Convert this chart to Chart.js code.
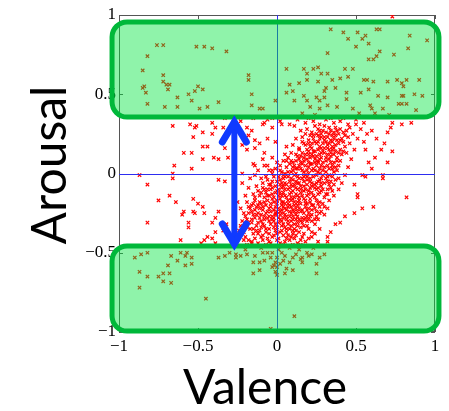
<!DOCTYPE html>
<html><head><meta charset="utf-8">
<script src="https://cdn.jsdelivr.net/npm/chart.js@4/dist/chart.umd.min.js"></script>
<style>html,body{margin:0;padding:0;background:#fff;}#wrap{width:449px;height:411px;}</style>
</head><body><div id="wrap"><canvas id="c" width="449" height="411"></canvas></div>
<script>
// ---------- data (valence, arousal) ----------
const tickValues = [-1, -0.5, 0, 0.5, 1];
const tickLabels = ['−1', '−0.5', '0', '0.5', '1'];
const xTitle = 'Valence';
const yTitle = 'Arousal';
const zeroLines = [0];   // reference lines at valence = 0 and arousal = 0

const denseCore = [
[-0.18,-0.42],[-0.12,-0.44],[-0.05,-0.43],[0.02,-0.44],[0.08,-0.42],[0.13,-0.44],[-0.15,-0.38],[-0.09,-0.39],[-0.03,-0.40],[0.04,-0.39],[0.10,-0.38],[0.16,-0.40],[-0.19,-0.34],[-0.13,-0.33],[-0.07,-0.35],[-0.01,-0.36],[0.05,-0.34],[0.11,-0.35],[0.17,-0.33],[0.22,-0.37],[-0.16,-0.31],[-0.10,-0.30],[-0.04,-0.32],[0.01,-0.31],[0.07,-0.30],[0.13,-0.31],[0.19,-0.30],[-0.21,-0.37],[-0.06,-0.41],[0.00,-0.38],[0.06,-0.37],[0.14,-0.37],[-0.11,-0.36],[0.09,-0.33],[0.03,-0.33],[-0.02,-0.30],[0.24,-0.32],[-0.14,-0.41],[0.18,-0.43],[0.11,-0.41],
[-0.20,-0.27],[-0.15,-0.26],[-0.11,-0.28],[-0.07,-0.25],[-0.03,-0.27],[0.01,-0.28],[0.04,-0.25],[0.08,-0.27],[0.12,-0.26],[0.16,-0.28],[0.20,-0.25],[0.25,-0.27],[-0.17,-0.22],[-0.13,-0.21],[-0.09,-0.23],[-0.05,-0.22],[-0.01,-0.21],[0.03,-0.23],[0.07,-0.21],[0.10,-0.23],[0.14,-0.22],[0.18,-0.21],[0.22,-0.23],[0.27,-0.21],[-0.19,-0.18],[-0.14,-0.17],[-0.10,-0.19],[-0.06,-0.17],[-0.02,-0.18],[0.02,-0.16],[0.05,-0.19],[0.09,-0.17],[0.13,-0.18],[0.17,-0.16],[0.21,-0.18],[0.25,-0.17],[0.29,-0.19],[-0.08,-0.29],[0.00,-0.24],[0.06,-0.29],[0.11,-0.20],[0.15,-0.24],[0.19,-0.27],[-0.04,-0.19],[0.03,-0.20],[0.08,-0.24],[0.12,-0.29],[-0.12,-0.25],[0.23,-0.20],[-0.16,-0.29],
[-0.15,-0.13],[-0.11,-0.14],[-0.07,-0.12],[-0.03,-0.13],[0.01,-0.14],[0.04,-0.12],[0.08,-0.13],[0.11,-0.15],[0.15,-0.12],[0.19,-0.14],[0.22,-0.12],[0.26,-0.13],[0.30,-0.15],[-0.13,-0.08],[-0.09,-0.09],[-0.05,-0.07],[-0.01,-0.08],[0.03,-0.09],[0.06,-0.07],[0.10,-0.08],[0.13,-0.10],[0.17,-0.08],[0.21,-0.09],[0.24,-0.07],[0.28,-0.08],[0.32,-0.10],[-0.10,-0.03],[-0.06,-0.04],[-0.02,-0.02],[0.02,-0.04],[0.05,-0.02],[0.09,-0.03],[0.12,-0.05],[0.16,-0.03],[0.19,-0.04],[0.23,-0.02],[0.27,-0.04],[0.31,-0.03],[0.34,-0.05],[0.00,-0.11],[0.07,-0.10],[0.14,-0.06],[0.20,-0.11],[0.25,-0.10],[0.11,-0.01],[0.18,-0.01],[-0.04,-0.10],[0.29,-0.01],[0.03,-0.06],[0.09,-0.12],
[-0.08,-0.33],[-0.02,-0.34],[0.04,-0.32],[0.10,-0.36],[0.15,-0.34],[-0.12,-0.31],[-0.06,-0.28],[0.02,-0.29],[0.09,-0.30],[0.14,-0.29],[0.20,-0.29],[-0.10,-0.26],[-0.04,-0.24],[0.05,-0.26],[0.11,-0.24],[0.17,-0.25],[0.22,-0.26],[-0.14,-0.23],[-0.07,-0.20],[0.01,-0.22],[0.06,-0.23],[0.13,-0.20],[0.19,-0.23],[0.25,-0.24],[-0.11,-0.18],[-0.03,-0.16],[0.04,-0.18],[0.10,-0.16],[0.15,-0.19],[0.21,-0.16],[0.27,-0.18],[-0.08,-0.15],[-0.01,-0.12],[0.06,-0.15],[0.12,-0.13],[0.17,-0.11],[0.23,-0.14],[0.28,-0.11],[-0.06,-0.10],[0.02,-0.07],[0.08,-0.05],[0.15,-0.08],[0.22,-0.06],[0.26,-0.05],[0.33,-0.07],[-0.03,-0.05],[0.04,-0.01],[0.13,-0.02],[0.20,0.00],[0.27,0.00],[0.33,-0.01],
[-0.13,-0.36],[-0.09,-0.42],[0.06,-0.41],[0.12,-0.39],[0.00,-0.42],[-0.17,-0.35],[-0.18,-0.25],[-0.16,-0.20],[0.31,-0.13],[0.34,-0.09],[0.37,-0.04],[0.30,-0.06],[0.02,-0.37],[-0.05,-0.38],[0.08,-0.35],[0.16,-0.31],[-0.01,-0.26],[0.07,-0.19],[0.12,-0.09],[0.19,-0.07],[0.05,-0.10],[-0.05,-0.27],[0.14,-0.15],[0.18,-0.19],[0.24,-0.09],[0.10,-0.11],[0.03,-0.14],[-0.09,-0.21],[0.00,-0.19],[0.10,-0.27],[-0.03,-0.29],[0.04,-0.21],[0.09,-0.21],[-0.06,-0.14]
];

const denseCoreExtra = [
[-0.16,-0.43],[-0.10,-0.40],[-0.04,-0.44],[0.01,-0.41],[0.05,-0.43],[0.09,-0.40],[0.15,-0.45],[-0.12,-0.38],[-0.07,-0.37],[-0.02,-0.39],[0.03,-0.36],[0.07,-0.39],[0.12,-0.36],[0.17,-0.38],[0.20,-0.35],[-0.15,-0.35],[-0.10,-0.34],[-0.05,-0.35],[0.00,-0.34],[0.06,-0.35],[0.13,-0.33],[0.19,-0.33],[-0.20,-0.40],[-0.23,-0.33],[0.22,-0.40],
[-0.18,-0.31],[-0.14,-0.28],[-0.09,-0.32],[-0.05,-0.30],[-0.01,-0.32],[0.03,-0.30],[0.07,-0.32],[0.11,-0.32],[0.15,-0.30],[0.18,-0.28],[0.22,-0.30],[-0.13,-0.26],[-0.08,-0.27],[-0.02,-0.28],[0.02,-0.26],[0.06,-0.27],[0.10,-0.29],[0.13,-0.27],[0.17,-0.29],[0.21,-0.27],[0.24,-0.29],[0.27,-0.25],[-0.19,-0.29],[-0.21,-0.25],[0.04,-0.28],
[-0.16,-0.24],[-0.11,-0.22],[-0.06,-0.24],[-0.02,-0.23],[0.02,-0.24],[0.05,-0.22],[0.09,-0.25],[0.12,-0.22],[0.16,-0.23],[0.20,-0.22],[0.24,-0.22],[0.28,-0.24],[-0.15,-0.19],[-0.12,-0.20],[-0.08,-0.18],[-0.04,-0.21],[0.00,-0.17],[0.03,-0.18],[0.07,-0.17],[0.11,-0.18],[0.14,-0.17],[0.18,-0.17],[0.22,-0.20],[0.26,-0.19],[0.30,-0.21],[-0.18,-0.21],[0.08,-0.20],[0.13,-0.24],[-0.01,-0.25],[0.19,-0.19],
[-0.14,-0.15],[-0.10,-0.12],[-0.05,-0.14],[-0.02,-0.15],[0.02,-0.12],[0.05,-0.14],[0.09,-0.15],[0.13,-0.14],[0.16,-0.14],[0.20,-0.13],[0.24,-0.15],[0.27,-0.12],[0.32,-0.13],[-0.12,-0.11],[-0.08,-0.10],[-0.03,-0.09],[0.01,-0.10],[0.04,-0.08],[0.08,-0.09],[0.11,-0.07],[0.15,-0.10],[0.18,-0.10],[0.22,-0.08],[0.26,-0.09],[0.29,-0.10],[0.35,-0.11],[-0.09,-0.06],[-0.04,-0.07],[0.00,-0.05],[0.05,-0.06],[0.09,-0.07],[0.13,-0.06],[0.17,-0.05],[0.21,-0.05],[0.25,-0.06],[0.28,-0.06],[0.32,-0.05],[0.36,-0.07],
[-0.07,-0.02],[-0.03,0.00],[0.01,-0.02],[0.04,-0.03],[0.07,-0.02],[0.10,-0.04],[0.14,-0.03],[0.17,-0.02],[0.21,-0.03],[0.25,-0.01],[0.28,-0.03],[0.32,-0.02],[0.35,-0.02],[0.39,-0.03],[0.02,0.02],[0.05,0.00],[0.09,0.01],[0.12,0.03],[0.16,0.02],[0.19,0.02],[0.23,0.03],[0.26,0.01],[0.29,0.02],[0.33,0.03],[0.37,0.04],[0.14,0.05],[0.21,0.06],[0.28,0.05],[0.35,0.05],[0.10,0.04],
[0.02,0.05],[0.06,0.08],[0.10,0.07],[0.14,0.09],[0.17,0.08],[0.20,0.07],[0.24,0.07],[0.27,0.09],[0.31,0.08],[0.34,0.07],[0.38,0.08],[0.12,0.12],[0.15,0.11],[0.18,0.12],[0.22,0.12],[0.25,0.11],[0.28,0.13],[0.32,0.12],[0.36,0.12],[0.39,0.13],[0.19,0.15],[0.24,0.14],[0.30,0.16],[0.33,0.15],[0.27,0.17],[0.22,0.16],[0.36,0.16],[0.42,0.14],
[0.17,0.19],[0.20,0.19],[0.26,0.20],[0.30,0.21],[0.33,0.19],[0.36,0.22],[0.40,0.21],[0.23,0.22],[0.28,0.23],[0.32,0.23],[0.35,0.24],[0.39,0.25],[0.21,0.24],[0.25,0.25],[0.31,0.26],[0.34,0.27],[0.42,0.26],[0.27,0.27],[0.37,0.29]
];

const upperArm = [
[-0.05,0.02],[-0.01,0.03],[0.03,0.01],[0.06,0.04],[0.10,0.02],[0.13,0.03],[0.17,0.01],[0.20,0.04],[0.24,0.02],[0.27,0.03],[0.31,0.01],[0.35,0.03],[0.38,0.02],[0.00,0.07],[0.04,0.08],[0.08,0.06],[0.12,0.08],[0.15,0.07],[0.19,0.09],[0.22,0.06],[0.26,0.08],[0.29,0.07],[0.33,0.09],[0.36,0.07],[0.40,0.08],[0.05,0.12],[0.09,0.13],[0.13,0.11],[0.16,0.13],[0.20,0.12],[0.23,0.14],[0.27,0.12],[0.30,0.13],[0.34,0.11],[0.37,0.14],[0.41,0.12],[0.18,0.05],[0.25,0.05],[0.32,0.05],[0.11,0.05],[0.21,0.10],[0.28,0.10],[0.14,0.15],[0.35,0.15],[0.07,0.10],[0.39,0.05],
[0.06,0.17],[0.10,0.18],[0.14,0.16],[0.18,0.18],[0.21,0.17],[0.25,0.19],[0.28,0.16],[0.32,0.18],[0.35,0.17],[0.39,0.19],[0.43,0.17],[0.12,0.22],[0.16,0.23],[0.20,0.21],[0.23,0.24],[0.27,0.22],[0.30,0.23],[0.34,0.21],[0.37,0.24],[0.41,0.22],[0.45,0.23],[0.15,0.27],[0.19,0.28],[0.22,0.26],[0.26,0.28],[0.29,0.27],[0.33,0.29],[0.36,0.26],[0.40,0.28],[0.44,0.27],[0.48,0.25],[0.24,0.20],[0.31,0.20],[0.38,0.21],[0.28,0.25],
[0.07,0.01],[0.15,0.03],[0.22,0.02],[0.30,0.04],[0.36,0.01],[0.09,0.08],[0.17,0.10],[0.24,0.09],[0.31,0.10],[0.38,0.10],[0.20,0.14],[0.26,0.15],[0.32,0.16],[0.29,0.19],[0.35,0.20],[0.22,0.19],[0.40,0.15],[0.16,0.20],[0.26,0.24],[0.33,0.25],[0.38,0.27],[0.42,0.20],[0.18,0.25],[0.24,0.30],[0.30,0.30],[0.46,0.29],[0.16,0.06],[0.23,0.11],[0.29,0.14],[0.12,0.00],[0.19,-0.02],[0.26,0.07],[0.34,0.13],[0.37,0.18],[0.43,0.24],
[-0.08,0.32],[0.02,0.33],[0.08,0.31],[0.13,0.34],[0.18,0.32],[0.23,0.33],[0.27,0.31],[0.31,0.34],[0.36,0.32],[0.40,0.33],[0.45,0.31],[0.50,0.34],[0.55,0.32],[0.20,0.35],[0.34,0.35],[-0.03,0.35],[0.11,0.30],[0.42,0.35],[-0.33,0.35],[-0.15,0.35],[0.03,0.31]
];

const clusterEdge = [
[-0.22,-0.30],[-0.24,-0.36],[-0.21,-0.42],[-0.26,-0.40],[-0.23,-0.22],[-0.20,-0.14],[-0.18,-0.09],[-0.22,-0.06],[-0.17,-0.03],[-0.14,-0.01],[-0.12,0.02],[-0.08,0.05],[-0.15,0.06],[-0.25,-0.18],[-0.27,-0.28],[-0.29,-0.44],[-0.19,-0.45],[-0.16,-0.44],[-0.07,-0.45],[0.04,-0.45],[0.10,-0.45],[0.15,-0.42],[0.20,-0.41],[0.24,-0.38],[0.27,-0.35],[0.26,-0.29],[0.30,-0.26],[0.32,-0.22],[0.33,-0.17],[0.36,-0.14],[0.39,-0.10],[0.41,-0.06],[0.43,-0.01],[0.45,0.04],[0.47,0.09],[0.44,0.13],[0.49,0.15],[0.46,0.19],[0.51,0.22],[0.53,0.28],[0.50,0.31],[0.57,0.25],[0.55,0.20]
];

const rightScatter = [
[0.67,-0.03],[0.56,-0.02],[0.51,-0.13],[0.54,-0.22],[0.61,-0.21],[0.49,-0.25],[0.43,-0.27],[0.40,-0.31],[0.37,-0.32],[0.34,-0.37],[0.32,-0.40],[0.26,-0.43],[0.82,-0.15],[0.49,-0.07],[0.51,-0.15],[0.32,-0.43],
[0.85,0.32],[0.79,0.31],[0.73,0.32],[0.72,0.29],[0.70,0.26],[0.68,0.19],[0.73,0.14],[0.70,0.07],[0.62,0.10],[0.66,0.15],[0.63,0.22],[0.60,0.27],[0.67,-0.01],[0.54,-0.01],[0.60,0.03],[0.56,0.15],[0.58,0.07]
];

const leftScatter = [
[-0.87,-0.01],[-0.82,-0.07],[-0.66,0.00],[-0.66,-0.03],[-0.68,-0.14],[-0.75,-0.17],[-0.64,-0.18],[-0.53,-0.16],[-0.50,-0.19],[-0.47,-0.21],[-0.59,-0.24],[-0.60,-0.26],[-0.53,-0.24],[-0.52,-0.25],[-0.46,-0.25],[-0.56,-0.31],[-0.82,-0.31],[-0.39,-0.28],[-0.37,-0.24],[-0.56,-0.34],[-0.41,-0.31],[-0.61,-0.42],[-0.48,-0.44],[-0.37,-0.04],[-0.33,-0.05],[-0.39,-0.37],[-0.34,-0.36],[-0.41,-0.41],[-0.44,-0.40],[-0.32,-0.32],[-0.46,-0.42],[-0.39,-0.44],
[-0.66,0.30],[-0.55,0.31],[-0.52,0.29],[-0.51,0.30],[-0.47,0.26],[-0.53,0.23],[-0.41,0.32],[-0.39,0.29],[-0.41,0.25],[-0.34,0.29],[-0.47,0.17],[-0.44,0.17],[-0.59,0.13],[-0.54,0.13],[-0.47,0.09],[-0.40,0.10],[-0.37,0.09],[-0.65,0.05],[-0.54,0.03],[-0.33,0.16],[-0.31,0.10],[-0.23,0.33],[-0.19,0.29],[-0.16,0.27],[-0.18,0.24],[-0.14,0.21],[-0.22,0.18],[-0.19,0.15],[-0.14,0.16],[-0.11,0.19],[-0.08,0.13],[-0.09,0.09],[-0.03,0.10],[-0.06,0.05],[-0.14,0.05],[-0.22,0.00],[-0.06,0.34],[-0.03,0.29],[-0.09,0.31],[-0.06,0.22],[-0.01,0.20],[-0.03,0.02]
];

const highArousalBand = [
[-0.76,0.81],[-0.72,0.81],[-0.82,0.74],[-0.85,0.65],[-0.84,0.55],[-0.85,0.54],[-0.83,0.51],[-0.82,0.44],[-0.72,0.62],[-0.72,0.58],[-0.70,0.56],[-0.68,0.56],[-0.69,0.53],[-0.63,0.48],[-0.71,0.42],[-0.63,0.42],[-0.56,0.50],[-0.54,0.46],[-0.52,0.52],[-0.50,0.55],[-0.47,0.53],[-0.49,0.41],[-0.44,0.42],[-0.51,0.80],[-0.46,0.80],[-0.41,0.79],[-0.32,0.77],[-0.37,0.45],[-0.18,0.62],[-0.18,0.59],[-0.16,0.50],[-0.16,0.43],[-0.09,0.41],[-0.11,0.41],[-0.01,0.46],
[0.34,0.91],[0.42,0.89],[0.45,0.85],[0.54,0.85],[0.56,0.87],[0.63,0.91],[0.65,0.91],[0.84,0.87],[0.95,0.84],[0.83,0.79],[0.50,0.80],[0.58,0.82],[0.32,0.76],[0.65,0.77],[0.74,0.75],[0.58,0.72],[0.61,0.72],[0.63,0.74],[0.06,0.66],[0.17,0.66],[0.23,0.66],[0.26,0.67],[0.28,0.63],[0.19,0.63],[0.32,0.63],[0.43,0.66],[0.48,0.66],[0.45,0.61],[0.55,0.59],[0.57,0.59],[0.61,0.58],[0.70,0.58],[0.76,0.59],[0.79,0.57],[0.82,0.59],[0.90,0.59],[0.80,0.55],[0.08,0.56],[0.14,0.57],[0.19,0.59],[0.26,0.58],[0.31,0.54],[0.37,0.54],[0.30,0.52],[0.35,0.59],[0.06,0.51],[0.10,0.52],[0.17,0.49],[0.19,0.46],[0.25,0.48],[0.27,0.46],[0.30,0.48],[0.44,0.51],[0.44,0.47],[0.53,0.51],[0.58,0.53],[0.64,0.49],[0.70,0.48],[0.79,0.49],[0.80,0.49],[0.87,0.50],[0.92,0.49],[0.21,0.42],[0.27,0.41],[0.32,0.43],[0.38,0.42],[0.48,0.41],[0.59,0.43],[0.60,0.41],[0.67,0.41],[0.77,0.44],[0.79,0.44],[0.82,0.44],[0.11,0.46],[0.40,0.60],[0.51,0.89],[0.73,0.99],[0.62,0.38],[0.71,0.37],[0.16,0.38],[0.24,0.37],[0.52,0.38],[0.88,0.40]
];

const lowArousalBand = [
[-0.90,-0.53],[-0.86,-0.51],[-0.82,-0.50],[-0.87,-0.62],[-0.82,-0.65],[-0.87,-0.72],[-0.75,-0.65],[-0.72,-0.63],[-0.68,-0.63],[-0.72,-0.68],[-0.67,-0.69],[-0.69,-0.58],[-0.67,-0.52],[-0.63,-0.55],[-0.61,-0.50],[-0.58,-0.52],[-0.58,-0.58],[-0.54,-0.57],[-0.54,-0.53],[-0.57,-0.50],[-0.45,-0.79],[-0.37,-0.53],[-0.33,-0.52],[-0.30,-0.50],[-0.26,-0.53],[-0.23,-0.52],[-0.19,-0.51],[-0.15,-0.56],[-0.11,-0.56],[-0.15,-0.63],[-0.11,-0.61],[-0.08,-0.55],[-0.06,-0.50],[-0.03,-0.50],[-0.01,-0.56],[-0.02,-0.58],[0.00,-0.59],[-0.03,-0.59],[-0.01,-0.62],[0.00,-0.64],[0.02,-0.57],[0.03,-0.50],[0.05,-0.52],[0.06,-0.60],[0.05,-0.63],[0.08,-0.56],[0.10,-0.53],[0.12,-0.51],[0.15,-0.54],[0.16,-0.53],[0.19,-0.50],[0.20,-0.52],[0.22,-0.51],[0.16,-0.56],[0.10,-0.61],[0.25,-0.57],[0.25,-0.63],[0.27,-0.53],[0.30,-0.51],[0.11,-0.90],[-0.04,-0.98],[-0.14,-0.52],[-0.09,-0.50],[0.00,-0.53],[-0.26,-0.51],[-0.20,-0.48],[-0.10,-0.47],[0.01,-0.48],[0.08,-0.47],[0.14,-0.48],[0.23,-0.47],[-0.04,-0.53],[0.04,-0.55]
];

const highBox = [-1.044, 1.025, 0.356, 0.956];   // valence from/to, arousal from/to
const lowBox  = [-1.044, 1.025, -0.994, -0.457];
const arrowValence = -0.27;
const arrowArousal = [0.35, -0.47];

// ---------- chart ----------
const allPoints = [].concat(denseCore, denseCoreExtra, upperArm, clusterEdge, rightScatter, leftScatter, highArousalBand, lowArousalBand)
  .map(p => ({x: p[0], y: p[1]}));

const framePlugin = {
  id: 'frame',
  beforeDatasetsDraw(chart) {
    const {ctx, chartArea: a, scales: {x, y}} = chart;
    ctx.save();
    ctx.strokeStyle = '#555';
    ctx.lineWidth = 1;
    ctx.strokeRect(a.left + 0.5, a.top + 0.5, a.right - a.left - 1, a.bottom - a.top - 1);
    ctx.beginPath();
    tickValues.forEach(v => {
      const px = Math.round(x.getPixelForValue(v)) + 0.5;
      const py = Math.round(y.getPixelForValue(v)) + 0.5;
      ctx.moveTo(px, a.top); ctx.lineTo(px, a.top + 4);
      ctx.moveTo(px, a.bottom); ctx.lineTo(px, a.bottom - 4);
      ctx.moveTo(a.left, py); ctx.lineTo(a.left + 4, py);
      ctx.moveTo(a.right, py); ctx.lineTo(a.right - 4, py);
    });
    ctx.stroke();
    ctx.restore();
  },
  afterDatasetsDraw(chart) {
    const {ctx, chartArea: a, scales: {x, y}} = chart;
    ctx.save();
    // zero reference lines
    ctx.strokeStyle = 'rgb(45,45,240)';
    ctx.lineWidth = 1;
    ctx.beginPath();
    zeroLines.forEach(v => {
      const px = Math.round(x.getPixelForValue(v)) + 0.5;
      const py = Math.round(y.getPixelForValue(v)) + 0.5;
      ctx.moveTo(px, a.top); ctx.lineTo(px, a.bottom);
      ctx.moveTo(a.left, py); ctx.lineTo(a.right, py);
    });
    ctx.stroke();
    // highlighted bands
    [highBox, lowBox].forEach(b => {
      const x0 = x.getPixelForValue(b[0]), x1 = x.getPixelForValue(b[1]);
      const y0 = y.getPixelForValue(b[3]), y1 = y.getPixelForValue(b[2]);
      ctx.beginPath();
      ctx.roundRect(x0, y0, x1 - x0, y1 - y0, 15);
      ctx.fillStyle = 'rgba(0,228,62,0.44)';
      ctx.fill();
      ctx.lineWidth = 5;
      ctx.strokeStyle = 'rgb(0,184,58)';
      ctx.stroke();
    });
    // double arrow
    const ax = x.getPixelForValue(arrowValence);
    const ay0 = y.getPixelForValue(arrowArousal[0]);
    const ay1 = y.getPixelForValue(arrowArousal[1]);
    ctx.strokeStyle = 'rgb(16,58,255)';
    ctx.lineCap = 'round';
    ctx.lineJoin = 'miter';
    ctx.lineWidth = 6;
    ctx.beginPath();
    ctx.moveTo(ax, ay0 + 4); ctx.lineTo(ax, ay1 - 4);
    ctx.stroke();
    ctx.lineWidth = 7;
    ctx.beginPath();
    ctx.moveTo(ax - 12, ay0 + 24); ctx.lineTo(ax, ay0 + 4); ctx.lineTo(ax + 12, ay0 + 24);
    ctx.moveTo(ax - 12, ay1 - 24); ctx.lineTo(ax, ay1 - 4); ctx.lineTo(ax + 12, ay1 - 24);
    ctx.stroke();
    ctx.restore();
  },
  afterDraw(chart) {
    const {ctx, chartArea: a} = chart;
    ctx.save();
    ctx.fillStyle = '#000';
    ctx.font = '48px Lato';
    ctx.textAlign = 'center';
    ctx.textBaseline = 'alphabetic';
    ctx.fillText(xTitle, a.left + 146, 404);
    ctx.translate(66, a.top + 150);
    ctx.rotate(-Math.PI / 2);
    ctx.fillText(yTitle, 0, 0);
    ctx.restore();
  }
};

const tickFont = {family: 'Liberation Serif', size: 17};
function fixedTicks(scale) { scale.ticks = tickValues.map(v => ({value: v})); }

new Chart(document.getElementById('c'), {
  type: 'scatter',
  data: {
    datasets: [
      {data: allPoints, pointStyle: 'crossRot', pointRadius: 2.4, borderWidth: 1.2, borderColor: 'rgb(255,0,0)', backgroundColor: 'rgb(255,0,0)'}
    ]
  },
  options: {
    responsive: false,
    animation: false,
    devicePixelRatio: 1,
    layout: {padding: {top: 15, right: 14, left: 0, bottom: 0}},
    plugins: {legend: {display: false}, tooltip: {enabled: false}},
    scales: {
      x: {
        type: 'linear', min: -1, max: 1,
        afterBuildTicks: fixedTicks,
        afterFit: s => { s.height = 79; },
        grid: {display: false, drawTicks: false},
        border: {display: false},
        ticks: {font: tickFont, color: '#000', padding: 4, maxRotation: 0, autoSkip: false,
                callback: (v, i) => tickLabels[i]}
      },
      y: {
        type: 'linear', min: -1, max: 1,
        afterBuildTicks: fixedTicks,
        afterFit: s => { s.width = 119; },
        grid: {display: false, drawTicks: false},
        border: {display: false},
        ticks: {font: tickFont, color: '#000', padding: 3, autoSkip: false,
                callback: (v, i) => tickLabels[i]}
      }
    }
  },
  plugins: [framePlugin]
});
</script></body></html>
